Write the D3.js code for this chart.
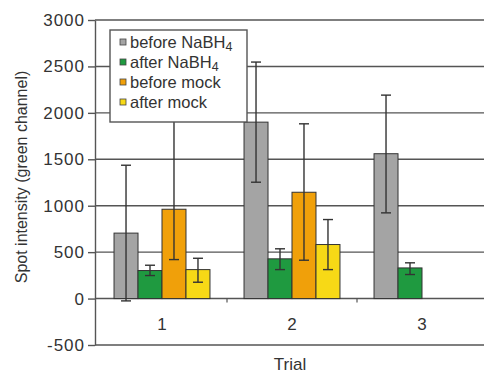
<!DOCTYPE html>
<html>
<head>
<meta charset="utf-8">
<script src="https://cdn.jsdelivr.net/npm/d3@7"></script>
<style>
  body { margin: 0; background: #fff; }
  text { font-family: "Liberation Sans", Arial, sans-serif; fill: #333; }
</style>
</head>
<body>
<div id="chart"></div>
<script>
// chart data
const trials = ['1', '2', '3'];
const seriesNames = ['before NaBH4', 'after NaBH4', 'before mock', 'after mock'];
const seriesColors = ['#a4a4a4', '#1f9a40', '#f0a00a', '#f7d916'];
// mean value per series, one entry per trial (null = not measured)
const beforeNaBH4 = [705, 1900, 1560];
const afterNaBH4 = [302, 428, 330];
const beforeMock = [962, 1145, null];
const afterMock = [312, 582, null];
// error bar ends (low / high)
const errLow = [[-25, 1253, 923], [248, 312, 259], [420, 413, null], [176, 312, null]];
const errHigh = [[1436, 2547, 2191], [359, 536, 385], [1960, 1882, null], [434, 851, null]];
const yTicks = [-500, 0, 500, 1000, 1500, 2000, 2500, 3000];

const width = 484, height = 375;
const svg = d3.select('#chart').append('svg')
  .attr('width', width)
  .attr('height', height);

const y = d3.scaleLinear().domain([-500, 3000]).range([345, 20]);
const x = d3.scaleBand().domain(trials).range([97, 487]);
const x1 = d3.scaleBand().domain(seriesNames).range([0, x.bandwidth()])
  .paddingInner(0).paddingOuter(0.71);

const allValues = [beforeNaBH4, afterNaBH4, beforeMock, afterMock];

// gridlines
svg.append('g').selectAll('line')
  .data(yTicks)
  .enter().append('line')
    .attr('x1', 95).attr('x2', width)
    .attr('y1', d => y(d)).attr('y2', d => y(d))
    .attr('stroke', '#555').attr('stroke-width', 1.4);

// y axis
const yAxis = svg.append('g')
  .attr('transform', 'translate(95,0)')
  .call(d3.axisLeft(y).tickValues(yTicks).tickSize(7).tickPadding(3).tickSizeOuter(0)
    .tickFormat(d => String(d)));
yAxis.select('.domain').attr('stroke', '#555').attr('stroke-width', 1.4);
yAxis.selectAll('.tick line').attr('stroke', '#555').attr('stroke-width', 1.4);
yAxis.selectAll('.tick text')
  .attr('font-size', 17).attr('fill', '#333')
  .attr('letter-spacing', 1)
  .attr('font-family', '"Liberation Sans", Arial, sans-serif');

// category separator ticks on the zero line
svg.append('g').selectAll('line')
  .data(trials.slice(1))
  .enter().append('line')
    .attr('x1', d => x(d)).attr('x2', d => x(d))
    .attr('y1', y(0)).attr('y2', y(0) + 4)
    .attr('stroke', '#555').attr('stroke-width', 1.2);

// category labels
svg.append('g').selectAll('text')
  .data(trials)
  .enter().append('text')
    .attr('x', d => x(d) + x.bandwidth() / 2)
    .attr('y', 330)
    .attr('text-anchor', 'middle')
    .attr('font-size', 17)
    .text(d => d);

// bars
const bars = [];
allValues.forEach((vals, si) => {
  vals.forEach((v, ti) => {
    if (v == null) return;
    bars.push({ s: si, t: trials[ti], v: v, lo: errLow[si][ti], hi: errHigh[si][ti] });
  });
});

svg.append('g').selectAll('rect')
  .data(bars)
  .enter().append('rect')
    .attr('x', d => x(d.t) + x1(seriesNames[d.s]))
    .attr('width', x1.bandwidth())
    .attr('y', d => y(d.v))
    .attr('height', d => y(0) - y(d.v))
    .attr('fill', d => seriesColors[d.s])
    .attr('stroke', '#333')
    .attr('stroke-width', 1);

// error bars
const eb = svg.append('g').attr('stroke', '#333').attr('stroke-width', 1.4);
bars.forEach(d => {
  const cx = x(d.t) + x1(seriesNames[d.s]) + x1.bandwidth() / 2;
  eb.append('line').attr('x1', cx).attr('x2', cx).attr('y1', y(d.lo)).attr('y2', y(d.hi));
  [d.lo, d.hi].forEach(e => {
    eb.append('line').attr('x1', cx - 5).attr('x2', cx + 5).attr('y1', y(e)).attr('y2', y(e));
  });
});

// legend
const legend = svg.append('g').attr('transform', 'translate(110,30)');
legend.append('rect')
  .attr('width', 137).attr('height', 92)
  .attr('fill', '#fff').attr('stroke', '#555').attr('stroke-width', 1.4);
const item = legend.selectAll('g.item')
  .data(seriesNames)
  .enter().append('g')
    .attr('class', 'item')
    .attr('transform', (d, i) => `translate(10,${12 + i * 20})`);
item.append('rect')
  .attr('x', 0).attr('y', -3).attr('width', 6).attr('height', 6)
  .attr('fill', (d, i) => seriesColors[i])
  .attr('stroke', '#444').attr('stroke-width', 0.8);
const label = item.append('text')
  .attr('x', 10).attr('y', 6)
  .attr('font-size', 16.5);
label.each(function (d) {
  const t = d3.select(this);
  if (d.endsWith('NaBH4')) {
    t.append('tspan').text(d.slice(0, -1));
    t.append('tspan').attr('dy', 3).attr('font-size', 12.5).text('4');
  } else {
    t.text(d);
  }
});

// axis titles
svg.append('text')
  .attr('transform', 'translate(27,177) rotate(-90)')
  .attr('text-anchor', 'middle')
  .attr('font-size', 16)
  .text('Spot intensity (green channel)');
svg.append('text')
  .attr('x', 290).attr('y', 370)
  .attr('text-anchor', 'middle')
  .attr('font-size', 17)
  .text('Trial');
</script>
</body>
</html>
